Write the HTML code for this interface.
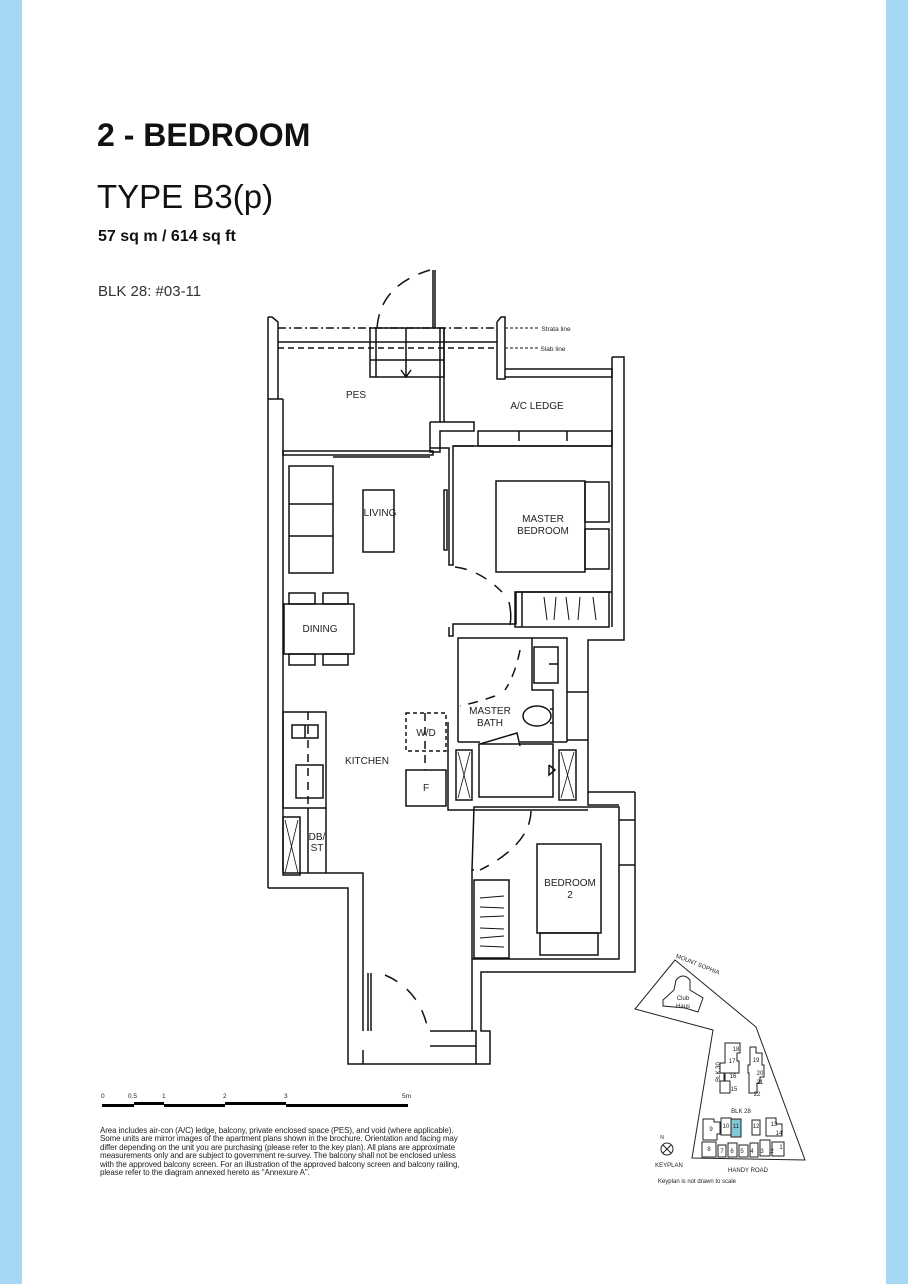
<!DOCTYPE html>
<html><head><meta charset="utf-8"><style>
html,body{margin:0;padding:0;background:#fff}
body{width:908px;height:1284px;position:relative;overflow:hidden;font-family:"Liberation Sans",sans-serif;color:#111}
.bar{position:absolute;top:0;width:22px;height:1284px;background:#a6d8f5}
.t{position:absolute;white-space:nowrap}
</style></head><body>
<div class="bar" style="left:0"></div>
<div class="bar" style="left:886px"></div>
<div class="t" style="left:97px;top:117px;font-size:32px;font-weight:bold;letter-spacing:0px">2 - BEDROOM</div>
<div class="t" style="left:97px;top:178px;font-size:33px">TYPE B3(p)</div>
<div class="t" style="left:98px;top:228px;font-size:16px;font-weight:bold">57 sq m / 614 sq ft</div>
<div class="t" style="left:98px;top:283px;font-size:15px;color:#333">BLK 28: #03-11</div>

<svg width="908" height="1284" style="position:absolute;left:0;top:0" xmlns="http://www.w3.org/2000/svg">
<g fill="none" stroke="#111" stroke-width="1.5">
<line x1="278" y1="328" x2="497" y2="328" stroke-dasharray="8,3,2,3"/>
<line x1="505" y1="328" x2="538" y2="328" stroke-dasharray="3,2" stroke-width="1"/>
<line x1="278" y1="348" x2="497" y2="348" stroke-dasharray="6,4"/>
<line x1="505" y1="348" x2="538" y2="348" stroke-dasharray="3,2" stroke-width="1"/>
<line x1="278" y1="342" x2="370" y2="342"/>
<line x1="444" y1="342" x2="497" y2="342"/>
<polyline points="268,317 272,317 278,322 278,399"/>
<line x1="268" y1="317" x2="268" y2="888"/>
<line x1="283" y1="399" x2="283" y2="873"/>
<line x1="268" y1="399" x2="283" y2="399"/>
<polyline points="268,888 348,888 348,1064 490,1064 490,1031 481,1031 481,972 635,972 635,792"/>
<polyline points="283,873 363,873 363,1031"/>
<polyline points="363,1050 363,1064"/>
<polyline points="430,1031 476,1031 476,1046 430,1046"/>
<polyline points="476,1046 476,1064"/>
<polyline points="472,1031 472,870 474,870"/>
<line x1="368" y1="973" x2="368" y2="1031"/><line x1="371" y1="973" x2="371" y2="1031"/>
<path d="M385,975 Q420,990 428,1030" stroke-dasharray="14,12"/>
<rect x="370" y="328" width="74" height="49"/>
<line x1="370" y1="342" x2="444" y2="342"/><line x1="370" y1="360" x2="444" y2="360"/>
<line x1="406" y1="328" x2="406" y2="377"/><polyline points="401,370 406,377 411,370"/>
<line x1="376" y1="328" x2="376" y2="377"/>
<path d="M377,328 Q380,285 430,270" stroke-dasharray="14,10"/>
<line x1="433" y1="270" x2="433" y2="328"/><line x1="435" y1="270" x2="435" y2="328"/>
<polyline points="497,322 501,317 505,317 505,379 497,379 497,322"/>
<polyline points="505,369 612,369 612,377 505,377"/>
<line x1="440" y1="328" x2="440" y2="422"/><line x1="444" y1="328" x2="444" y2="422"/>
<polyline points="430,422 474,422 474,431 440,431 440,452 430,452 430,422"/>
<polyline points="612,357 624,357 624,640 588,640 588,792 635,792"/>
<line x1="612" y1="357" x2="612" y2="627"/>
<rect x="478" y="431" width="134" height="15"/>
<line x1="519" y1="431" x2="519" y2="441"/><line x1="567" y1="431" x2="567" y2="441"/>
<rect x="283" y="451" width="150" height="4"/>
<line x1="333" y1="457" x2="430" y2="457"/>
<polyline points="474,446 453,446 453,565 449,565 449,448 430,448"/>
<line x1="453" y1="446" x2="612" y2="446"/>
<rect x="444" y="490" width="3" height="60"/>
<path d="M455,567 Q480,570 502,592" stroke-dasharray="12,10"/>
<path d="M509,602 Q512,615 510,625" />
<polyline points="449,627 449,636 453,636 453,624 516,624 516,592 612,592"/>
<rect x="515" y="592" width="94" height="35"/>
<line x1="522" y1="592" x2="522" y2="627"/>
<g stroke-width="1"><line x1="544" y1="597" x2="547" y2="620"/><line x1="556" y1="597" x2="554" y2="620"/><line x1="566" y1="597" x2="569" y2="620"/><line x1="580" y1="597" x2="578" y2="620"/><line x1="593" y1="597" x2="596" y2="620"/></g>
<rect x="496" y="481" width="89" height="91"/>
<rect x="585" y="482" width="24" height="40"/><rect x="585" y="529" width="24" height="40"/>
<rect x="289" y="466" width="44" height="107"/>
<line x1="289" y1="504" x2="333" y2="504"/><line x1="289" y1="536" x2="333" y2="536"/>
<rect x="363" y="490" width="31" height="62"/>
<rect x="284" y="604" width="70" height="50"/>
<rect x="289" y="593" width="26" height="11"/><rect x="323" y="593" width="25" height="11"/>
<rect x="289" y="654" width="26" height="11"/><rect x="323" y="654" width="25" height="11"/>
<polyline points="458,742 458,638 567,638 567,742"/>
<line x1="458" y1="742" x2="480" y2="742"/><line x1="520" y1="742" x2="567" y2="742"/>
<polyline points="532,638 532,690 553,690 553,742"/>
<rect x="534" y="647" width="24" height="36"/>
<line x1="549" y1="664" x2="558" y2="664"/>
<ellipse cx="537" cy="716" rx="14" ry="10"/>
<line x1="550" y1="709" x2="553" y2="709"/><line x1="550" y1="723" x2="553" y2="723"/>
<path d="M520,650 Q515,675 505,690" stroke-dasharray="10,8"/>
<path d="M495,696 Q478,702 460,706" stroke-dasharray="10,8"/>
<polyline points="480,744 517,733 520,746"/>
<polyline points="567,692 588,692"/><polyline points="567,740 588,740"/>
<rect x="456" y="750" width="16" height="50"/><rect x="559" y="750" width="17" height="50"/>
<g stroke-width="0.8"><polyline points="458,752 470,798"/><polyline points="470,752 458,798"/><polyline points="561,752 574,798"/><polyline points="574,752 561,798"/></g>
<rect x="479" y="744" width="74" height="53"/>
<polyline points="549,765 555,770 549,775 549,765"/>
<polyline points="448,722 448,810 588,810"/>
<rect x="406" y="713" width="40" height="38" stroke-dasharray="4,3"/>
<rect x="406" y="770" width="40" height="36"/>
<line x1="425" y1="713" x2="425" y2="770" stroke-dasharray="8,6"/>
<polyline points="472,870 474,807 619,807 619,959 472,959"/>
<polyline points="588,792 588,805 619,805"/>
<polyline points="619,820 635,820"/><polyline points="619,865 635,865"/>
<rect x="537" y="844" width="64" height="89"/>
<rect x="540" y="933" width="58" height="22"/>
<rect x="474" y="880" width="35" height="78"/>
<g stroke-width="1"><line x1="480" y1="898" x2="504" y2="896"/><line x1="480" y1="907" x2="504" y2="908"/><line x1="480" y1="917" x2="504" y2="916"/><line x1="480" y1="928" x2="504" y2="929"/><line x1="480" y1="938" x2="504" y2="936"/><line x1="480" y1="946" x2="504" y2="947"/></g>
<path d="M531,811 Q530,845 480,870" stroke-dasharray="14,10"/>
<rect x="283" y="712" width="43" height="96"/>
<rect x="292" y="725" width="26" height="13"/><line x1="305" y1="725" x2="305" y2="738"/>
<rect x="296" y="765" width="27" height="33"/>
<line x1="308" y1="712" x2="308" y2="808" stroke-dasharray="8,6"/>
<polyline points="326,808 326,873"/><line x1="308" y1="808" x2="308" y2="873"/>
<rect x="283" y="817" width="17" height="58"/>
<g stroke-width="0.8"><line x1="285" y1="820" x2="298" y2="873"/><line x1="298" y1="820" x2="285" y2="873"/></g>
</g>
<g font-family="Liberation Sans,sans-serif" font-size="10" fill="#222" text-anchor="middle">
<text x="356" y="398">PES</text>
<text x="537" y="409">A/C LEDGE</text>
<text x="380" y="516">LIVING</text>
<text x="543" y="522">MASTER</text><text x="543" y="534">BEDROOM</text>
<text x="320" y="632">DINING</text>
<text x="490" y="714">MASTER</text><text x="490" y="726">BATH</text>
<text x="426" y="736">W/D</text>
<text x="426" y="791">F</text>
<text x="367" y="764">KITCHEN</text>
<text x="317" y="840">DB/</text><text x="317" y="851">ST</text>
<text x="570" y="886">BEDROOM</text><text x="570" y="898">2</text>
<text x="556" y="331" font-size="6.5">Strata line</text>
<text x="553" y="351" font-size="6.5">Slab line</text>
</g>
<g fill="#000">
<rect x="102" y="1104" width="32" height="3"/><rect x="134" y="1102" width="30" height="3"/>
<rect x="164" y="1104" width="61" height="3"/><rect x="225" y="1102" width="61" height="3"/>
<rect x="286" y="1104" width="122" height="3"/>
</g>
<g font-family="Liberation Sans,sans-serif" font-size="6.5" fill="#222">
<text x="101" y="1098">0</text><text x="128" y="1098">0.5</text><text x="162" y="1098">1</text>
<text x="223" y="1098">2</text><text x="284" y="1098">3</text><text x="402" y="1098">5m</text>
</g>
<g fill="none" stroke="#222" stroke-width="1">
<polygon points="675,960 756,1027 805,1160 692,1158 713,1030 635,1009"/>
<path d="M663,1000 L674,990 L676,980 Q683,972 690,980 L690,990 L703,998 L698,1012 L685,1008 L663,1006 Z"/>
<path d="M725,1043 h15 v10 h-3 v8 h2 v12 h-14 v8 h5 v12 h-10 v-12 h4 v-8 h-4 v-10 h5 z"/>
<path d="M750,1047 h6 v6 h6 v12 h2 v12 h-4 v6 h-3 v10 h-8 v-20 h-1 v-8 h2 z"/>
<path d="M703,1119 h11 v3 h6 v12 h-3 v6 h-14 z"/>
<path d="M721,1118 h10 v17 h-10 z"/>
<path d="M752,1120 h8 v15 h-8 z"/><path d="M766,1118 h10 v6 h6 v12 h-16 z"/>
<path d="M702,1142 h14 v15 h-14 z"/><path d="M718,1145 h8 v12 h-8 z"/><path d="M728,1143 h9 v14 h-9 z"/>
<path d="M739,1145 h9 v12 h-9 z"/><path d="M750,1143 h8 v14 h-8 z"/><path d="M760,1140 h10 v16 h-10 z"/><path d="M772,1142 h12 v14 h-12 z"/>
<circle cx="667" cy="1149" r="6"/><line x1="663" y1="1145" x2="671" y2="1153"/><line x1="671" y1="1145" x2="663" y2="1153"/>
</g>
<rect x="731" y="1119" width="10" height="18" fill="#7fc9d8" stroke="#222" stroke-width="1"/>
<g font-family="Liberation Sans,sans-serif" font-size="6" fill="#222" text-anchor="middle">
<text x="697" y="966" transform="rotate(22 697 966)">MOUNT SOPHIA</text>
<text x="683" y="1000">Club</text><text x="683" y="1008">Haus</text>
<text x="736" y="1051">18</text><text x="732" y="1063">17</text><text x="733" y="1078">16</text><text x="734" y="1091">15</text>
<text x="756" y="1062">19</text><text x="760" y="1075">20</text><text x="760" y="1084">21</text><text x="757" y="1096">22</text>
<text x="720" y="1072" transform="rotate(-90 720 1072)">BLK 30</text>
<text x="741" y="1113">BLK 28</text>
<text x="711" y="1131">9</text><text x="726" y="1128">10</text><text x="736" y="1128">11</text><text x="756" y="1128">12</text><text x="774" y="1126">13</text><text x="779" y="1135">14</text>
<text x="709" y="1151">8</text><text x="722" y="1153">7</text><text x="732" y="1153">6</text><text x="742" y="1153">5</text><text x="752" y="1153">4</text><text x="762" y="1153">3</text><text x="772" y="1153">2</text><text x="781" y="1149">1</text>
<text x="669" y="1167">KEYPLAN</text>
<text x="748" y="1172">HANDY ROAD</text>
<text x="697" y="1183">Keyplan is not drawn to scale</text>
<text x="662" y="1139" font-size="5">N</text>
</g>
</svg>
<div class="t" style="left:100px;top:1127px;font-size:8px;line-height:8.4px;letter-spacing:-0.1px;color:#222">Area includes air-con (A/C) ledge, balcony, private enclosed space (PES), and void (where applicable).<br>Some units are mirror images of the apartment plans shown in the brochure. Orientation and facing may<br>differ depending on the unit you are purchasing (please refer to the key plan). All plans are approximate<br>measurements only and are subject to government re-survey. The balcony shall not be enclosed unless<br>with the approved balcony screen. For an illustration of the approved balcony screen and balcony railing,<br>please refer to the diagram annexed hereto as "Annexure A".</div>
</body></html>
